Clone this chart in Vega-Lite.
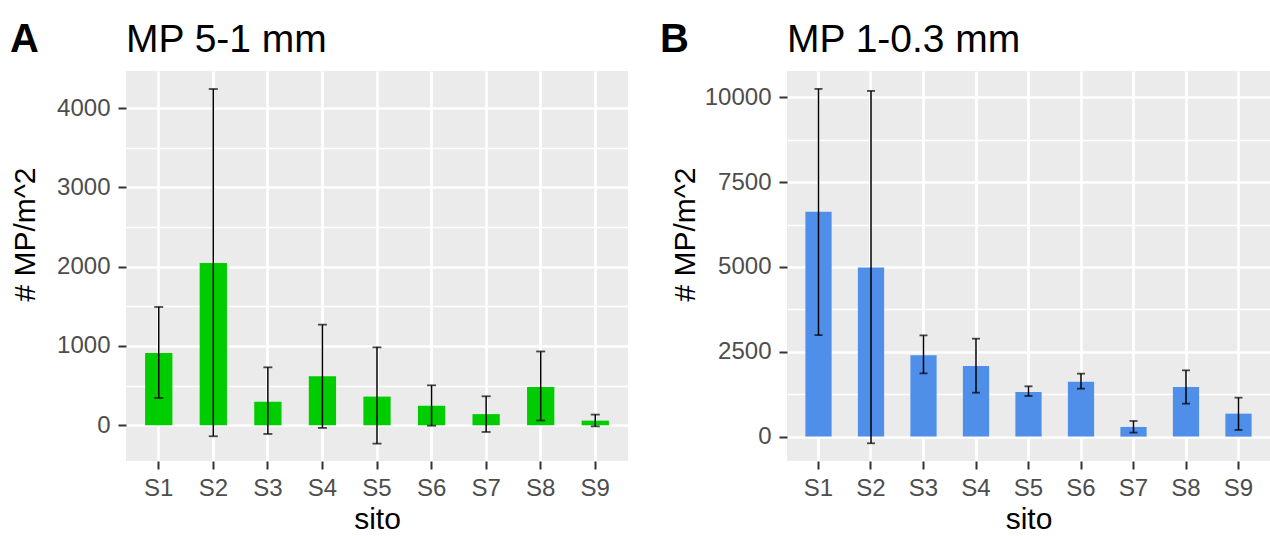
{
  "$schema": "https://vega.github.io/schema/vega-lite/v6.json",
  "background": "#FFFFFF",
  "padding": {"left": 10, "top": 20, "right": 0, "bottom": 0},
  "spacing": 32,
  "datasets": {
    "mp_5_1": [
      {"sito": "S1", "mean": 912, "lo": 345, "hi": 1492},
      {"sito": "S2", "mean": 2046, "lo": -138, "hi": 4240},
      {"sito": "S3", "mean": 297, "lo": -109, "hi": 731},
      {"sito": "S4", "mean": 618, "lo": -33, "hi": 1269},
      {"sito": "S5", "mean": 362, "lo": -231, "hi": 983},
      {"sito": "S6", "mean": 248, "lo": -5, "hi": 504},
      {"sito": "S7", "mean": 141, "lo": -84, "hi": 366},
      {"sito": "S8", "mean": 484, "lo": 61, "hi": 931},
      {"sito": "S9", "mean": 59, "lo": -13, "hi": 135}
    ],
    "mp_1_03": [
      {"sito": "S1", "mean": 6625, "lo": 2992, "hi": 10247},
      {"sito": "S2", "mean": 4985, "lo": -197, "hi": 10188},
      {"sito": "S3", "mean": 2394, "lo": 1864, "hi": 2983},
      {"sito": "S4", "mean": 2080, "lo": 1295, "hi": 2886},
      {"sito": "S5", "mean": 1315, "lo": 1197, "hi": 1482},
      {"sito": "S6", "mean": 1619, "lo": 1413, "hi": 1855},
      {"sito": "S7", "mean": 284, "lo": 118, "hi": 461},
      {"sito": "S8", "mean": 1462, "lo": 971, "hi": 1953},
      {"sito": "S9", "mean": 677, "lo": 196, "hi": 1148}
    ]
  },
  "hconcat": [
    {
      "title": {"text": "A", "fontSize": 40, "fontWeight": "bold", "anchor": "start", "frame": "bounds", "offset": 0, "dy": 39, "dx": 0},
      "hconcat": [
        {
          "title": {"text": "MP 5-1 mm", "anchor": "start", "frame": "group", "offset": 11},
          "width": 502,
          "height": 390,
          "data": {"name": "mp_5_1"},
          "encoding": {
            "x": {
              "field": "sito", "type": "nominal",
              "scale": {"paddingInner": 0, "paddingOuter": 0.1},
              "axis": {"title": "sito", "labelAngle": 0, "bandPosition": 0.5, "grid": true, "gridWidth": 2.7, "labelPadding": 7, "titlePadding": 4}
            }
          },
          "layer": [
            {
              "mark": {"type": "bar", "color": "#00CD00", "width": {"band": 0.5}},
              "encoding": {
                "y": {
                  "field": "mean", "type": "quantitative",
                  "scale": {"domain": [-450, 4467], "nice": false, "zero": false},
                  "axis": {
                    "title": "# MP/m^2",
                    "values": [0, 500, 1000, 1500, 2000, 2500, 3000, 3500, 4000],
                    "format": "d",
                    "labelExpr": "datum.value % 1000 === 0 ? datum.label : ''",
                    "grid": true,
                    "gridWidth": {"condition": {"test": "datum.value % 1000 !== 0", "value": 1.4}, "value": 2.7},
                    "tickOpacity": {"condition": {"test": "datum.value % 1000 !== 0", "value": 0}, "value": 1},
                    "labelPadding": 8,
                    "titleX": -86, "titleY": 163, "titleAngle": 270, "titleAlign": "center", "titleBaseline": "bottom"
                  }
                }
              }
            },
            {
              "mark": {"type": "rule", "color": "#000000", "strokeWidth": 1.5},
              "encoding": {"y": {"field": "lo", "type": "quantitative"}, "y2": {"field": "hi"}}
            },
            {
              "mark": {"type": "tick", "color": "#000000", "size": 9, "thickness": 1.8},
              "encoding": {"y": {"field": "lo", "type": "quantitative"}}
            },
            {
              "mark": {"type": "tick", "color": "#000000", "size": 9, "thickness": 1.8},
              "encoding": {"y": {"field": "hi", "type": "quantitative"}}
            }
          ]
        }
      ]
    },
    {
      "title": {"text": "B", "fontSize": 40, "fontWeight": "bold", "anchor": "start", "frame": "bounds", "offset": 0, "dy": 39, "dx": -10},
      "hconcat": [
        {
          "title": {"text": "MP 1-0.3 mm", "anchor": "start", "frame": "group", "offset": 11},
          "width": 483,
          "height": 390,
          "data": {"name": "mp_1_03"},
          "encoding": {
            "x": {
              "field": "sito", "type": "nominal",
              "scale": {"paddingInner": 0, "paddingOuter": 0.1},
              "axis": {"title": "sito", "labelAngle": 0, "bandPosition": 0.5, "grid": true, "gridWidth": 2.7, "labelPadding": 7, "titlePadding": 4}
            }
          },
          "layer": [
            {
              "mark": {"type": "bar", "color": "#4F8FEA", "width": {"band": 0.5}},
              "encoding": {
                "y": {
                  "field": "mean", "type": "quantitative",
                  "scale": {"domain": [-719, 10775], "nice": false, "zero": false},
                  "axis": {
                    "title": "# MP/m^2",
                    "values": [0, 1250, 2500, 3750, 5000, 6250, 7500, 8750, 10000],
                    "format": "d",
                    "labelExpr": "datum.value % 2500 === 0 ? datum.label : ''",
                    "grid": true,
                    "gridWidth": {"condition": {"test": "datum.value % 2500 !== 0", "value": 1.4}, "value": 2.7},
                    "tickOpacity": {"condition": {"test": "datum.value % 2500 !== 0", "value": 0}, "value": 1},
                    "labelPadding": 8,
                    "titleX": -87, "titleY": 163, "titleAngle": 270, "titleAlign": "center", "titleBaseline": "bottom"
                  }
                }
              }
            },
            {
              "mark": {"type": "rule", "color": "#000000", "strokeWidth": 1.5},
              "encoding": {"y": {"field": "lo", "type": "quantitative"}, "y2": {"field": "hi"}}
            },
            {
              "mark": {"type": "tick", "color": "#000000", "size": 8, "thickness": 1.8},
              "encoding": {"y": {"field": "lo", "type": "quantitative"}}
            },
            {
              "mark": {"type": "tick", "color": "#000000", "size": 8, "thickness": 1.8},
              "encoding": {"y": {"field": "hi", "type": "quantitative"}}
            }
          ]
        }
      ]
    }
  ],
  "config": {
    "view": {"fill": "#EBEBEB", "stroke": null},
    "font": "Liberation Sans",
    "axis": {
      "domain": false,
      "labelFont": "Liberation Sans",
      "labelFontSize": 24,
      "labelColor": "#4D4D4D",
      "titleFont": "Liberation Sans",
      "titleFontSize": 30,
      "titleFontWeight": "normal",
      "titleColor": "#000000",
      "tickColor": "#333333",
      "tickWidth": 2,
      "tickSize": 8,
      "gridColor": "#FFFFFF"
    },
    "title": {"font": "Liberation Sans", "fontSize": 39, "fontWeight": "normal", "color": "#000000", "anchor": "start"}
  }
}
